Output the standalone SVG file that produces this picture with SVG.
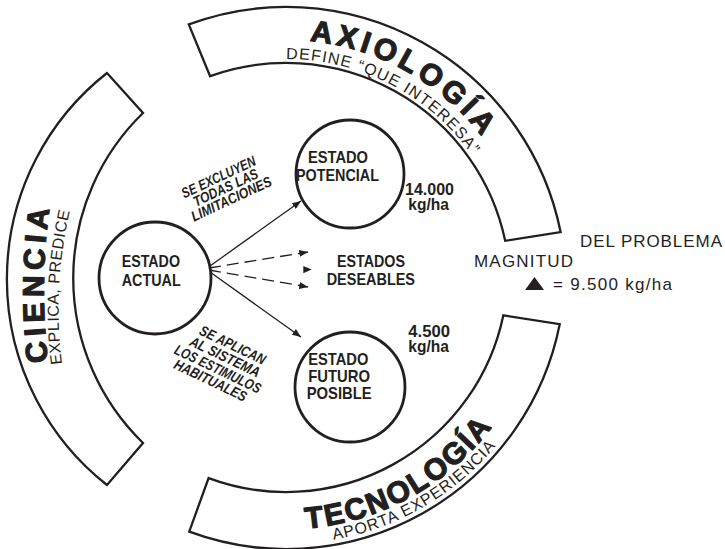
<svg xmlns="http://www.w3.org/2000/svg" width="725" height="549" viewBox="0 0 725 549">
<style>
.band{fill:#fff;stroke:#231f20;stroke-width:2.3;stroke-linejoin:miter}
.ring{fill:#fff;stroke:#231f20;stroke-width:2.8}
.cond{font-family:"Liberation Sans Narrow","Liberation Sans",Arial,sans-serif;font-weight:bold;font-size:17px;fill:#231f20}
.rot{font-family:"Liberation Sans Narrow","Liberation Sans",Arial,sans-serif;font-weight:bold;font-style:italic;font-size:14.5px;fill:#231f20}
.reg{font-family:"Liberation Sans",Arial,sans-serif;font-size:17px;fill:#231f20}
.big{font-family:"Liberation Sans",Arial,sans-serif;font-weight:bold;font-size:30px;fill:#231f20;stroke:#231f20;stroke-width:1.2;stroke-linejoin:round}
.sub{font-family:"Liberation Sans",Arial,sans-serif;font-size:16px;fill:#231f20}
.conn{fill:none;stroke:#231f20;stroke-width:1.3}
.dash{stroke-dasharray:12 6}
</style>
<defs>
<marker id="ah" viewBox="0 0 10 8" refX="10" refY="4" markerWidth="9" markerHeight="7" orient="auto" markerUnits="userSpaceOnUse">
<path d="M0,0 L10,4 L0,8 z" fill="#231f20" stroke="none"/>
</marker>
<path id="pAxio" d="M309.7,41.1 A247,247 0 0 1 509.9,182.6"/>
<path id="pDefine" d="M286,59 A228,228 0 0 1 492.6,190.6"/>
<path id="pTecno" d="M306,528.5 A259,259 0 0 0 520.7,379.5"/>
<path id="pAporta" d="M333.6,539.8 A274,274 0 0 0 534.3,385.8"/>
<path id="pCiencia" d="M48,362 A600,600 0 0 1 51,198"/>
<path id="pExplica" d="M62,364 A440,440 0 0 1 73,198"/>
</defs>
<rect width="725" height="549" fill="#fff"/>

<g id="band-axiologia">
<path class="band" d="M188.8,24.4 A280,280 0 0 1 560.6,232.1 L505.2,240.8 A224,224 0 0 0 210.1,76.2 Z"/>
<text class="big" letter-spacing="4.2"><textPath href="#pAxio">AXIOLOGÍA</textPath></text>
<text class="sub" font-size="17" letter-spacing="1.2"><textPath href="#pDefine">DEFINE “QUE INTERESA”</textPath></text>
</g>

<g id="band-ciencia">
<path class="band" d="M107,73 A262,262 0 0 0 107,485 L143,443 A230,230 0 0 1 143,113 Z"/>
<text class="big" font-size="31" letter-spacing="5"><textPath href="#pCiencia">CIENCIA</textPath></text>
<text class="sub" letter-spacing="0.4"><textPath href="#pExplica">EXPLICA, PREDICE</textPath></text>
</g>

<g id="band-tecnologia">
<path class="band" d="M559.7,324.2 A279,279 0 0 1 189.2,531.7 L208.6,478.1 A222,222 0 0 0 503.3,315.4 Z"/>
<text class="big" letter-spacing="2"><textPath href="#pTecno">TECNOLOGÍA</textPath></text>
<text class="sub" letter-spacing="0.9"><textPath href="#pAporta">APORTA EXPERIENCIA</textPath></text>
</g>

<g id="connectors">
<path class="conn" d="M210,266 L301,201" marker-end="url(#ah)"/>
<path class="conn" d="M210,272 L301,337" marker-end="url(#ah)"/>
<path class="conn dash" d="M209,268 L308,252" marker-end="url(#ah)"/>
<path class="conn dash" d="M209,270 L308,287" marker-end="url(#ah)"/>
<polygon points="303.3,266 311.7,269.5 303.3,273.3" fill="#231f20"/>
</g>

<g id="node-actual">
<circle class="ring" cx="155" cy="278" r="56"/>
<text class="cond" x="121.7" y="267.3" textLength="58.3" lengthAdjust="spacingAndGlyphs">ESTADO</text>
<text class="cond" x="121.7" y="286" textLength="59" lengthAdjust="spacingAndGlyphs">ACTUAL</text>
</g>

<g id="node-potencial">
<circle class="ring" cx="350" cy="174" r="54"/>
<text class="cond" x="308" y="163.3" textLength="60" lengthAdjust="spacingAndGlyphs">ESTADO</text>
<text class="cond" x="296" y="180.5" textLength="83" lengthAdjust="spacingAndGlyphs">POTENCIAL</text>
</g>

<g id="node-futuro">
<circle class="ring" cx="350" cy="387" r="55"/>
<text class="cond" x="308.3" y="365" textLength="60" lengthAdjust="spacingAndGlyphs">ESTADO</text>
<text class="cond" x="308.3" y="381.7" textLength="61.7" lengthAdjust="spacingAndGlyphs">FUTURO</text>
<text class="cond" x="306.7" y="399" textLength="65" lengthAdjust="spacingAndGlyphs">POSIBLE</text>
</g>

<g id="node-deseables">
<text class="cond" x="337" y="267.3" textLength="68" lengthAdjust="spacingAndGlyphs">ESTADOS</text>
<text class="cond" x="326.7" y="285" textLength="88.3" lengthAdjust="spacingAndGlyphs">DESEABLES</text>
</g>

<g id="labels">
<text class="cond" x="405" y="195" textLength="49" lengthAdjust="spacingAndGlyphs">14.000</text>
<text class="cond" x="408.3" y="210" textLength="40.7" lengthAdjust="spacingAndGlyphs">kg/ha</text>
<text class="cond" x="408.3" y="336.7" textLength="41.7" lengthAdjust="spacingAndGlyphs">4.500</text>
<text class="cond" x="408.3" y="352" textLength="40.7" lengthAdjust="spacingAndGlyphs">kg/ha</text>
<text class="reg" x="580" y="247" textLength="142">DEL PROBLEMA</text>
<text class="reg" x="474" y="266.7" textLength="99">MAGNITUD</text>
<polygon points="525,290 534.5,277 544,290" fill="#231f20"/>
<text class="reg" x="553" y="290" textLength="119">= 9.500 kg/ha</text>
<g transform="translate(218.5,177) rotate(-25)">
<text class="rot" x="-40" y="5" textLength="80" lengthAdjust="spacingAndGlyphs">SE EXCLUYEN</text>
<text class="rot" x="-33" y="17.6" textLength="70" lengthAdjust="spacingAndGlyphs">TODAS LAS</text>
<text class="rot" x="-41.1" y="30.2" textLength="87" lengthAdjust="spacingAndGlyphs">LIMITACIONES</text>
</g>
<g transform="translate(232.7,345) rotate(25.5)">
<text class="rot" x="-35.8" y="5" textLength="71.6" lengthAdjust="spacingAndGlyphs">SE APLICAN</text>
<text class="rot" x="-39.9" y="18.9" textLength="76" lengthAdjust="spacingAndGlyphs">AL SISTEMA</text>
<text class="rot" x="-50.1" y="33" textLength="94" lengthAdjust="spacingAndGlyphs">LOS ESTIMULOS</text>
<text class="rot" x="-44.3" y="46.5" textLength="79" lengthAdjust="spacingAndGlyphs">HABITUALES</text>
</g>
</g>
</svg>
